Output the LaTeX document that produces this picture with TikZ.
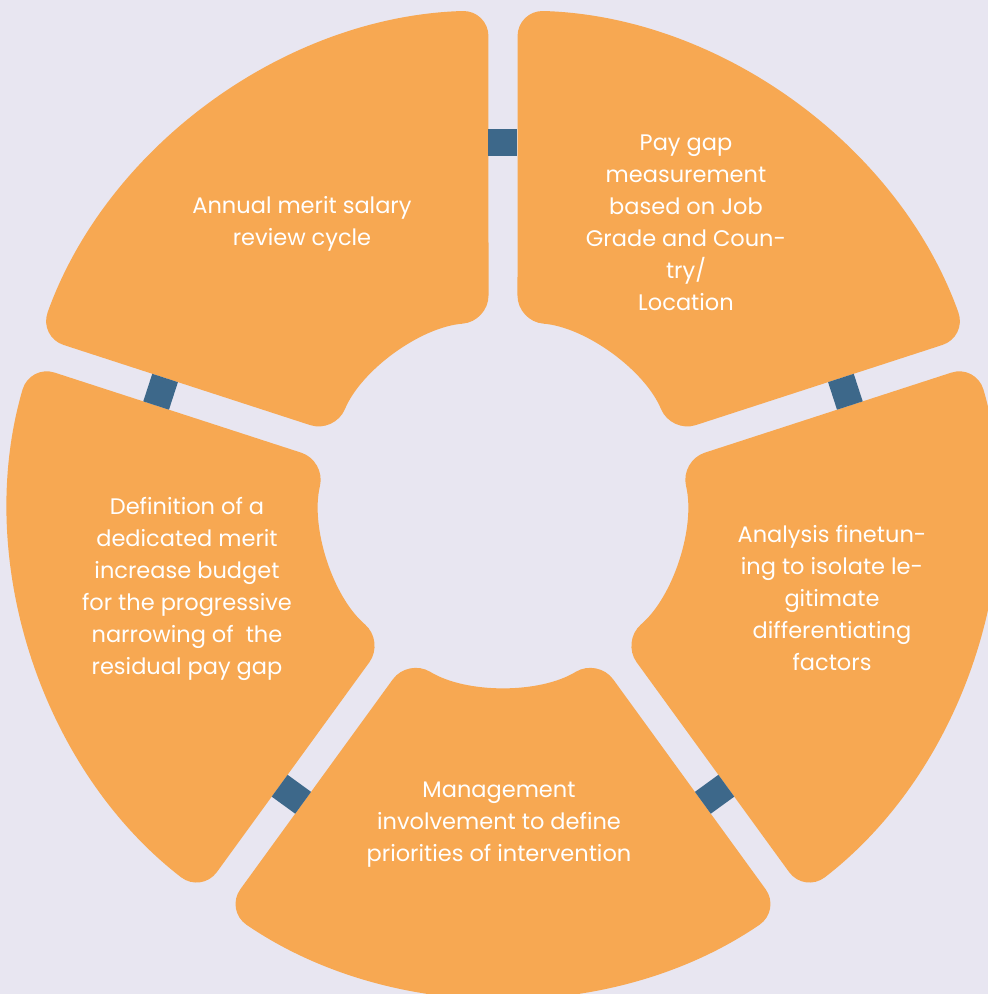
\documentclass[tikz,border=0pt]{standalone}
\usepackage{fontspec}
\setmainfont{Poppins}
\usepackage{tikz}
\definecolor{segorange}{RGB}{247,168,82}
\definecolor{linkblue}{RGB}{61,104,138}
\definecolor{bglilac}{RGB}{232,230,241}

\begin{document}
\begin{tikzpicture}[x=1pt, y=1pt,
  seg/.style = {fill=segorange, rounded corners=26pt},
  link/.style = {fill=linkblue, minimum width=27pt, minimum height=29pt, inner sep=0pt},
  every node/.style = {text=white, align=center,
    font=\fontsize{22.5}{32}\selectfont}]
  \fill[bglilac] (-503,-491) rectangle (485,503);
  \useasboundingbox (-503,-491) rectangle (485,503);
  % the five ring segments
  \foreach \ga in {18,90,162,234,306} {
    \pgfmathsetmacro{\gb}{\ga+72}
    \fill[seg] ([shift={(\ga+90:14.5pt)}]\ga:337pt) -- (\ga+1.69:493pt)
      arc[start angle=\ga+1.69, end angle=\gb-1.69, radius=493pt]
      -- (\gb-4.57:182pt)
      arc[start angle=\gb-4.57, end angle=\ga+4.57, radius=182pt] -- cycle;
  }
  % links in the gaps
  \node[link, rotate=90]  (l1) at (90:360pt) {};
  \node[link, rotate=162] (l2) at (162:360pt) {};
  \node[link, rotate=234] (l3) at (234:360pt) {};
  \node[link, rotate=306] (l4) at (306:360pt) {};
  \node[link, rotate=18]  (l5) at (18:360pt) {};
  % texts
  \node (annual) at (-201,279) {Annual merit salary\\review cycle};
  \node (paygap) at (183,280) {Pay gap\\measurement\\based on Job\\Grade and Coun-\\try/\\Location};
  \node (analysis) at (329,-95) {Analysis finetun-\\ing to isolate le-\\gitimate\\differentiating\\factors};
  \node (management) at (-4,-322) {Management\\involvement to define\\priorities of intervention};
  \node (budget) at (-316,-86) {Definition of a\\dedicated merit\\increase budget\\for the progressive\\narrowing of \ the\\residual pay gap};
\end{tikzpicture}
\end{document}
